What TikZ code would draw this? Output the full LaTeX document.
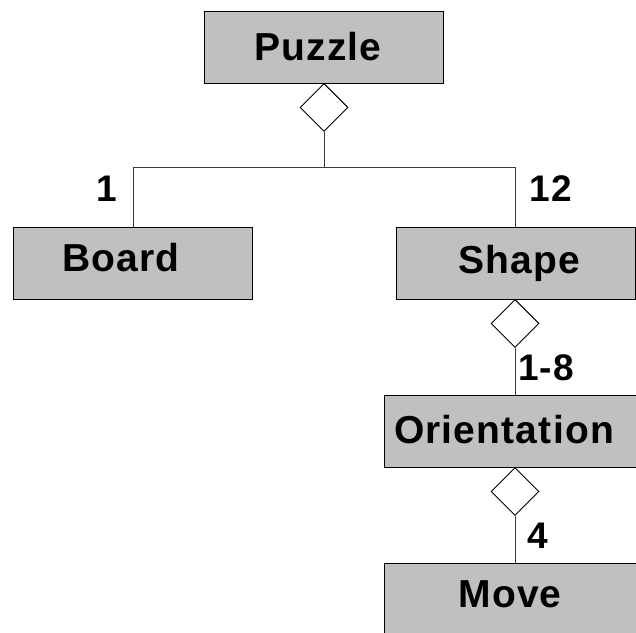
\documentclass[tikz,border=0pt]{standalone}
\usepackage{fontspec}
\usetikzlibrary{shapes.geometric}
\newfontfamily\lblfont{Liberation Sans}[LetterSpace=3]
\begin{document}
\begin{tikzpicture}[x=1pt,y=-1pt,
  classbox/.style={draw=black, line width=1.3pt, fill={rgb,255:red,192;green,192;blue,192}, rectangle, inner sep=0pt, minimum width=239pt, minimum height=72pt, anchor=north west},
  boxtext/.style={font=\lblfont\bfseries\fontsize{39}{42}\selectfont, inner sep=0pt, text height=28pt, text depth=0pt, anchor=center},
  multtext/.style={font=\lblfont\bfseries\fontsize{37}{40}\selectfont, inner sep=0pt, text height=26pt, text depth=0pt, anchor=center},
  agg/.style={draw=black, line width=0.9pt, fill=white, diamond, inner sep=0pt, minimum width=48pt, minimum height=48pt, anchor=north},
  conn/.style={draw={rgb,255:red,60;green,60;blue,60}, line width=1pt}
]
\useasboundingbox (0,0) rectangle (636,632);
\clip (0,0) rectangle (636,632);
\fill[white] (0,0) rectangle (636,632);

% boxes
\node[classbox] (puzzle) at (204,11) {};
\node[classbox] (board) at (13,227) {};
\node[classbox] (shape) at (396,227) {};
\node[classbox, minimum width=262pt] (orient) at (384,395) {};
\node[classbox, minimum width=262pt, minimum height=80pt] (move) at (384,563) {};

% box labels
\node[boxtext] (puzzlet) at (318,46) {Puzzle};
\node[boxtext] (boardt) at (121,257) {Board};
\node[boxtext] (shapet) at (519,259) {Shape};
\node[boxtext] (orientt) at (504,429) {Orientation};
\node[boxtext] (movet) at (510,593) {Move};

% aggregation diamonds
\node[agg] (d1) at (324,83) {};
\node[agg] (d2) at (515,299) {};
\node[agg] (d3) at (515,467) {};

% connectors
\coordinate (j) at (324,167);
\coordinate (jl) at (133,167);
\coordinate (jr) at (515,167);
\draw[conn] (d1.south) -- (j);
\draw[conn] (jl) -- (jr);
\draw[conn] (jl) -- (jl |- board.north);
\draw[conn] (jr) -- (jr |- shape.north);
\draw[conn] (d2.south) -- (d2.south |- orient.north);
\draw[conn] (d3.south) -- (d3.south |- move.north);

% multiplicities
\node[multtext] (m1) at (107,188) {1};
\node[multtext] (m12) at (551,188) {12};
\node[multtext] (m18) at (546,367) {1-8};
\node[multtext] (m4) at (538,535) {4};
\end{tikzpicture}
\end{document}
